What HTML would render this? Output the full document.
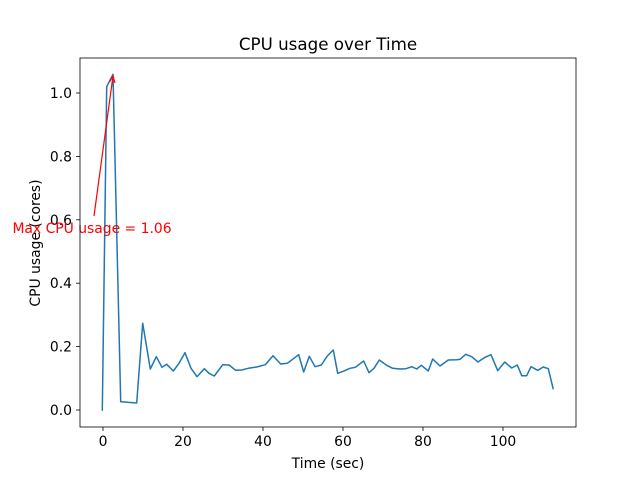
<!DOCTYPE html>
<html><head><style>body{margin:0;background:#fff}svg{display:block}</style></head><body>
<svg width="640" height="480" xmlns="http://www.w3.org/2000/svg" font-family="DejaVu Sans, sans-serif">
<rect width="640" height="480" fill="#fff"/>
<g stroke="#000" stroke-width="0.8">
<line x1="103" y1="427" x2="103" y2="431"/><line x1="183" y1="427" x2="183" y2="431"/><line x1="263" y1="427" x2="263" y2="431"/><line x1="343" y1="427" x2="343" y2="431"/><line x1="423" y1="427" x2="423" y2="431"/><line x1="503" y1="427" x2="503" y2="431"/>
<line x1="76" y1="410" x2="80" y2="410"/><line x1="76" y1="346.6" x2="80" y2="346.6"/><line x1="76" y1="283.2" x2="80" y2="283.2"/><line x1="76" y1="219.8" x2="80" y2="219.8"/><line x1="76" y1="156.4" x2="80" y2="156.4"/><line x1="76" y1="93" x2="80" y2="93"/>
</g>
<g font-size="13.9" fill="#000" text-anchor="middle">
<text x="103" y="446">0</text><text x="183" y="446">20</text><text x="263" y="446">40</text><text x="343" y="446">60</text><text x="423" y="446">80</text><text x="503" y="446">100</text>
<text x="328" y="468">Time (sec)</text>
<text x="328" y="50" font-size="16.7">CPU usage over Time</text>
</g>
<g font-size="13.9" fill="#000" text-anchor="end">
<text x="72" y="415">0.0</text><text x="72" y="351.6">0.2</text><text x="72" y="288.2">0.4</text><text x="72" y="224.8">0.6</text><text x="72" y="161.4">0.8</text><text x="72" y="98">1.0</text>
</g>
<text transform="translate(40,243) rotate(-90)" font-size="13.9" text-anchor="middle">CPU usage (cores)</text>
<polyline fill="none" stroke="#1f77b4" stroke-width="1.5" stroke-linejoin="round" points="102.3,410.7 106.7,86.7 113,74.3 120.7,401.7 136.7,403 142.7,323.3 150.3,369 156.3,356.7 162,367.3 166.7,364.3 173.3,371 179,363.3 185,352.7 191,368.3 197,376.7 204.3,368.7 209,373.3 214.3,376 222.7,364.7 229,365 235.7,370.3 241.7,370 248.3,368.3 256.7,367 265.3,364.7 273,355.7 280.7,364 287.3,363.3 298.7,354.7 303.7,372 309.3,356.3 315,366.7 321.3,365 327.3,356 333.3,350 337.7,373.3 343.3,371.3 350,368.3 355.3,367.3 363.7,361 369,372.7 374,368.3 379.3,360 386.7,365.3 392.7,368.3 400,369 406,368.7 411.7,366.7 416.7,369 421.3,365.3 428.3,371 432.7,359 440,366 448.3,360 456.7,359.7 460,359.3 465.7,354.3 471.7,356.7 478,362 485,357.3 491,354.7 497.7,370.7 504.7,362 511.7,368 517.3,365 521.7,375.7 526.7,375.7 531,366.7 537.7,370.3 543.3,367 548.3,368.7 553.3,389.3"/>
<line x1="94" y1="216" x2="113" y2="76" stroke="red" stroke-width="1.2"/>
<polyline points="109.5,82 113,76 115,83" fill="none" stroke="red" stroke-width="1.2"/>
<text x="92" y="233" font-size="13.9" fill="red" text-anchor="middle">Max CPU usage = 1.06</text>
<rect x="80" y="58" width="496" height="369" fill="none" stroke="#000" stroke-width="0.8"/>
</svg>
</body></html>
